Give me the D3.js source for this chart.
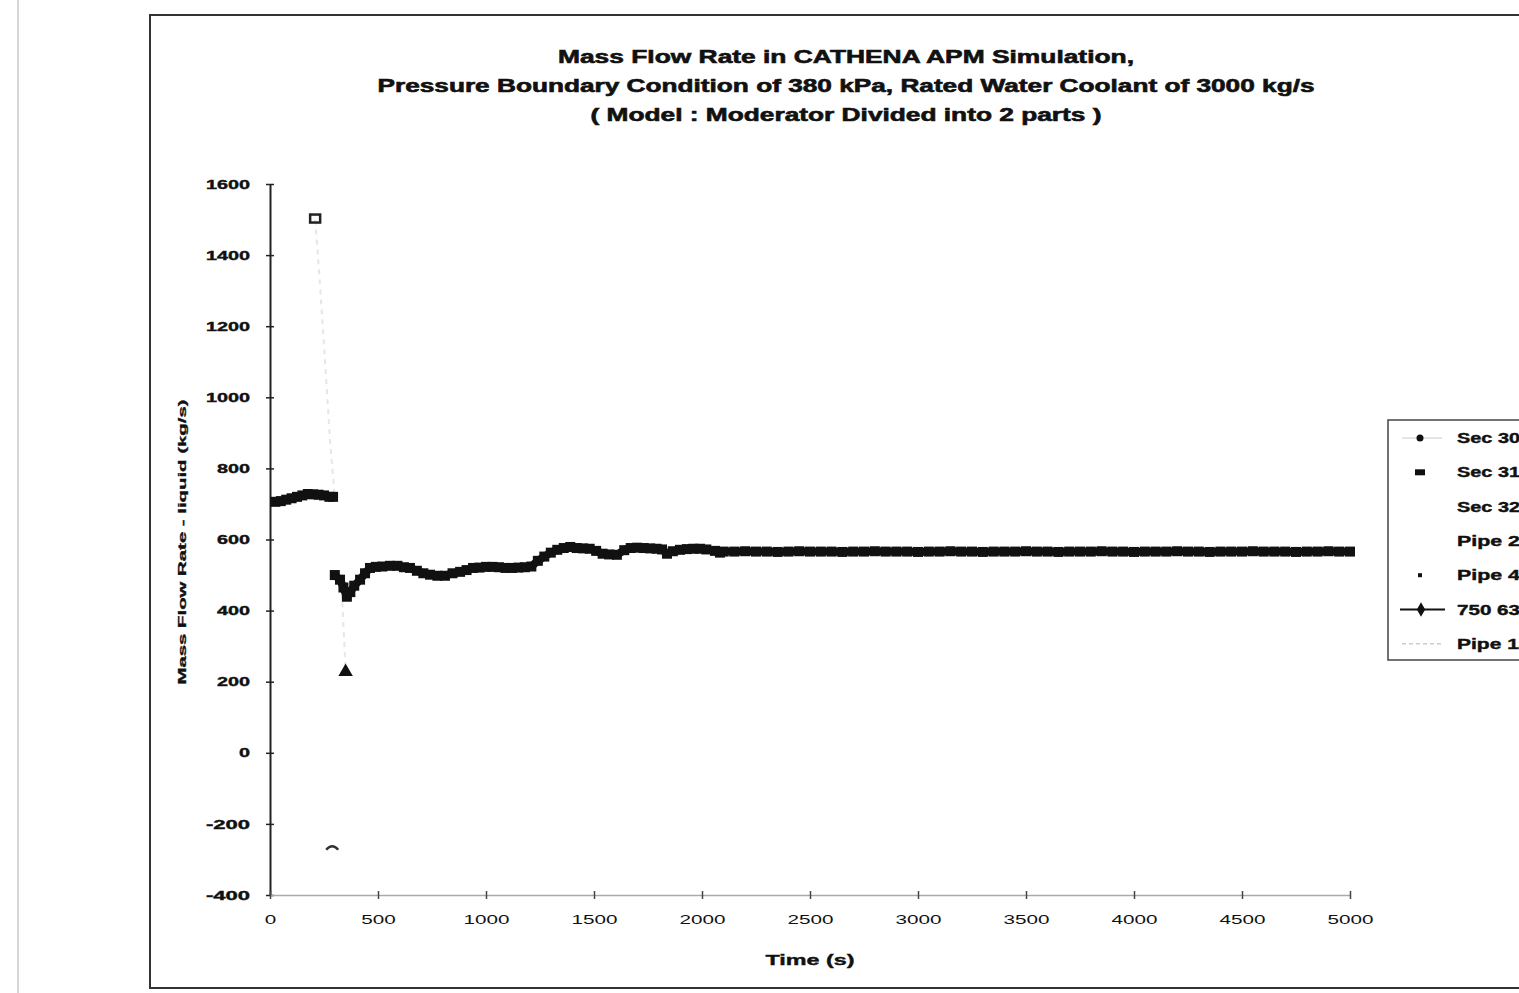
<!DOCTYPE html>
<html>
<head>
<script src="https://d3js.org/d3.v7.min.js" charset="utf-8"></script>
<style>
    body { margin: 0; background: #fff; overflow: hidden; }
    text { font-family: "Liberation Sans", Arial, sans-serif; fill: #111; }
</style>
</head>
<body>
<script>
    // main series "750 63..." (time s, mass flow kg/s)
    var mainTime = [25, 50, 75, 100, 125, 150, 175, 200, 225, 250, 275, 292,
                    300, 324, 340, 356, 372, 390, 417, 440, 463, 490, 520, 555, 590, 620, 648, 680, 710, 741,
                    775, 810, 845, 880, 910, 940, 970, 1000, 1030, 1060, 1090, 1120, 1150, 1180, 1210,
                    1240, 1270, 1300, 1330, 1360, 1390, 1420, 1450, 1480, 1510, 1540, 1570, 1606,
                    1640, 1670, 1700, 1730, 1760, 1790, 1815, 1838, 1865, 1898, 1930, 1960, 1991,
                    2020, 2060, 2083,
                    2100, 2150, 2200, 2250, 2300, 2350, 2400, 2450, 2500, 2550, 2600, 2650, 2700,
                    2750, 2800, 2850, 2900, 2950, 3000, 3050, 3100, 3150, 3200, 3250, 3300, 3350,
                    3400, 3450, 3500, 3550, 3600, 3650, 3700, 3750, 3800, 3850, 3900, 3950, 4000,
                    4050, 4100, 4150, 4200, 4250, 4300, 4350, 4400, 4450, 4500, 4550, 4600, 4650,
                    4700, 4750, 4800, 4850, 4900, 4950, 5000];
    var mainFlow = [706, 708, 712, 716, 720, 724, 728, 727, 726, 724, 720, 720,
                    500, 487, 465, 439, 452, 470, 487, 505, 520, 523, 524, 526, 526, 522, 520, 512, 505, 501,
                    498, 498, 505, 509, 514, 520, 521, 523, 523, 522, 520, 520, 521, 522, 524,
                    540, 552, 563, 571, 576, 579, 576, 575, 574, 568, 560, 558, 557,
                    570, 576, 577, 576, 575, 574, 572, 560, 567, 571, 573, 574, 574,
                    572, 568, 563,
                    566, 566, 567, 566, 566, 565, 566, 567, 566, 566, 566, 565, 566,
                    566, 567, 566, 566, 566, 565, 566, 566, 567, 566, 566, 565, 566,
                    566, 566, 567, 566, 566, 565, 566, 566, 566, 567, 566, 566, 565,
                    566, 566, 566, 567, 566, 566, 565, 566, 566, 566, 567, 566, 566,
                    566, 565, 566, 566, 567, 566, 566];

    // faint secondary series (few points visible in the picture)
    var sec30Time = [209];
    var sec30Flow = [1500];
    var sec31Time = [288];
    var sec31Flow = [-267];
    var pipe4Time = [350];
    var pipe4Flow = [228];
    var pipe13Time = [209, 230, 255, 280, 300];
    var pipe13Flow = [1500, 1330, 1100, 860, 720];
    var pipe13bTime = [330, 340, 350];
    var pipe13bFlow = [480, 360, 228];

    var xTicks = [0, 500, 1000, 1500, 2000, 2500, 3000, 3500, 4000, 4500, 5000];
    var yTicks = [1600, 1400, 1200, 1000, 800, 600, 400, 200, 0, -200, -400];
    var legendNames = ["Sec 30", "Sec 31", "Sec 32", "Pipe 2", "Pipe 4", "750 63", "Pipe 13"];

    var titleLines = ["Mass Flow Rate in CATHENA APM Simulation,",
                      "Pressure Boundary Condition of 380 kPa, Rated Water Coolant of 3000 kg/s",
                      "( Model : Moderator Divided into 2 parts )"];

    var w = 1519, h = 993;

    var svg = d3.select("body")
                .append("svg")
                .attr("width", w)
                .attr("height", h);

    // scanned page edges
    svg.append("line")
        .attr("x1", 18).attr("x2", 18).attr("y1", 0).attr("y2", h)
        .attr("stroke", "#c8c8c8").attr("stroke-width", 1.5);
    svg.append("rect")
        .attr("x", 150).attr("y", 15)
        .attr("width", 1420).attr("height", 973)
        .attr("fill", "none")
        .attr("stroke", "#333").attr("stroke-width", 2);

    // title
    var titleWidths = [576, 937, 511];
    svg.selectAll("text.title")
        .data(titleLines)
        .enter()
        .append("text")
        .attr("class", "title")
        .attr("x", 846)
        .attr("y", function(d, i) { return 63 + i * 29; })
        .attr("text-anchor", "middle")
        .attr("font-size", 18)
        .attr("font-weight", "bold")
        .attr("stroke", "#111").attr("stroke-width", 0.6)
        .attr("textLength", function(d, i) { return titleWidths[i]; })
        .attr("lengthAdjust", "spacingAndGlyphs")
        .text(function(d) { return d; });

    var x = d3.scaleLinear().domain([0, 5000]).range([270, 1350]);
    var y = d3.scaleLinear().domain([-400, 1600]).range([895, 184]);
    var fmt = function(d) { return String(d); };

    // y axis
    var yAxis = svg.append("g")
        .attr("transform", "translate(" + x(0) + ",0)")
        .call(d3.axisLeft(y).tickValues(yTicks).tickFormat(fmt).tickSizeInner(4).tickSizeOuter(0).tickPadding(16));
    yAxis.select(".domain").attr("stroke", "#222").attr("stroke-width", 2);
    yAxis.selectAll(".tick line").attr("x1", 4).attr("stroke", "#222").attr("stroke-width", 1.5);
    yAxis.selectAll(".tick text")
        .attr("font-size", 13)
        .attr("font-weight", "bold")
        .attr("font-family", "Liberation Sans, Arial, sans-serif")
        .attr("fill", "#111")
        .attr("stroke", "#111").attr("stroke-width", 0.4)
        .attr("textLength", function(d) { return String(d).length * 11; })
        .attr("lengthAdjust", "spacingAndGlyphs");

    // x axis
    var xAxis = svg.append("g")
        .attr("transform", "translate(0," + y(-400) + ")")
        .call(d3.axisBottom(x).tickValues(xTicks).tickFormat(fmt).tickSizeInner(4).tickSizeOuter(0).tickPadding(16));
    xAxis.select(".domain").attr("stroke", "#aaa").attr("stroke-width", 1.5);
    xAxis.selectAll(".tick line").attr("y1", -4).attr("stroke", "#444").attr("stroke-width", 1.5);
    xAxis.selectAll(".tick text")
        .attr("font-size", 13)
        .attr("font-family", "Liberation Sans, Arial, sans-serif")
        .attr("fill", "#111")
        .attr("textLength", function(d) { return String(d).length * 11.5; })
        .attr("lengthAdjust", "spacingAndGlyphs");

    // axis titles
    svg.append("text")
        .attr("x", 810).attr("y", 965)
        .attr("text-anchor", "middle")
        .attr("font-size", 15).attr("font-weight", "bold")
        .attr("stroke", "#111").attr("stroke-width", 0.4)
        .attr("textLength", 89).attr("lengthAdjust", "spacingAndGlyphs")
        .text("Time (s)");
    svg.append("text")
        .attr("transform", "translate(186,542) rotate(-90)")
        .attr("text-anchor", "middle")
        .attr("font-size", 10).attr("font-weight", "bold")
        .attr("stroke", "#111").attr("stroke-width", 0.3)
        .attr("textLength", 285).attr("lengthAdjust", "spacingAndGlyphs")
        .text("Mass Flow Rate - liquid (kg/s)");

    function pairs(t, v) {
        return t.map(function(d, i) { return [d, v[i]]; });
    }
    var line = d3.line()
        .x(function(d) { return x(d[0]); })
        .y(function(d) { return y(d[1]); });

    // faint secondary lines
    [pairs(pipe13Time, pipe13Flow), pairs(pipe13bTime, pipe13bFlow)].forEach(function(p) {
        svg.append("path")
            .attr("d", line(p))
            .attr("fill", "none")
            .attr("stroke", "#e6e6e6")
            .attr("stroke-width", 2)
            .attr("stroke-dasharray", "5,5");
    });

    // main series: two segments (jump at ~295 s is not connected)
    var mainData = pairs(mainTime, mainFlow);
    [mainData.slice(0, 12), mainData.slice(12)].forEach(function(seg) {
        svg.append("path")
            .attr("d", line(seg))
            .attr("fill", "none")
            .attr("stroke", "#111")
            .attr("stroke-width", 8)
            .attr("stroke-linejoin", "round");
    });
    svg.selectAll("path.mk")
        .data(mainData)
        .enter()
        .append("path")
        .attr("class", "mk")
        .attr("transform", function(d) { return "translate(" + x(d[0]) + "," + y(d[1]) + ")"; })
        .attr("d", d3.symbol().type(d3.symbolSquare).size(100))
        .attr("fill", "#111");

    // secondary markers
    pairs(sec30Time, sec30Flow).forEach(function(d) {
        svg.append("rect")
            .attr("x", x(d[0]) - 5).attr("y", y(d[1]) - 5)
            .attr("width", 10).attr("height", 8)
            .attr("fill", "none").attr("stroke", "#222").attr("stroke-width", 2.5);
    });
    pairs(sec31Time, sec31Flow).forEach(function(d) {
        svg.append("path")
            .attr("d", "M" + (x(d[0]) - 6) + "," + (y(d[1]) + 2) + " Q" + x(d[0]) + "," + (y(d[1]) - 5) + " " + (x(d[0]) + 6) + "," + (y(d[1]) + 2))
            .attr("fill", "none").attr("stroke", "#333").attr("stroke-width", 2.5);
    });
    pairs(pipe4Time, pipe4Flow).forEach(function(d) {
        svg.append("path")
            .attr("transform", "translate(" + x(d[0]) + "," + y(d[1]) + ")")
            .attr("d", d3.symbol().type(d3.symbolTriangle).size(90))
            .attr("fill", "#111");
    });

    // legend
    var lg = svg.append("g");
    lg.append("rect")
        .attr("x", 1388).attr("y", 420)
        .attr("width", 200).attr("height", 240)
        .attr("fill", "#fff")
        .attr("stroke", "#444").attr("stroke-width", 1.5);
    var ly = function(i) { return 438 + i * 34.3; };
    lg.selectAll("text")
        .data(legendNames)
        .enter()
        .append("text")
        .attr("x", 1457)
        .attr("y", function(d, i) { return ly(i) + 5; })
        .attr("font-size", 14).attr("font-weight", "bold")
        .attr("stroke", "#111").attr("stroke-width", 0.4)
        .attr("textLength", function(d) { return d.length * 10.5; })
        .attr("lengthAdjust", "spacingAndGlyphs")
        .text(function(d) { return d; });
    // Sec 30
    lg.append("line").attr("x1", 1402).attr("x2", 1442).attr("y1", ly(0)).attr("y2", ly(0))
        .attr("stroke", "#ddd").attr("stroke-width", 1.5);
    lg.append("circle").attr("cx", 1420).attr("cy", ly(0)).attr("r", 3.5).attr("fill", "#111");
    // Sec 31
    lg.append("rect").attr("x", 1415).attr("y", ly(1) - 3).attr("width", 10).attr("height", 6).attr("fill", "#111");
    // Pipe 4
    lg.append("rect").attr("x", 1418).attr("y", ly(4) - 2).attr("width", 4).attr("height", 4).attr("fill", "#111");
    // 750 63
    lg.append("line").attr("x1", 1400).attr("x2", 1445).attr("y1", ly(5)).attr("y2", ly(5))
        .attr("stroke", "#111").attr("stroke-width", 2);
    lg.append("path").attr("transform", "translate(1421," + ly(5) + ")")
        .attr("d", d3.symbol().type(d3.symbolDiamond).size(60)).attr("fill", "#111");
    // Pipe 13
    lg.append("line").attr("x1", 1402).attr("x2", 1442).attr("y1", ly(6)).attr("y2", ly(6))
        .attr("stroke", "#ccc").attr("stroke-width", 1.5).attr("stroke-dasharray", "4,3");
</script>
</body>
</html>
